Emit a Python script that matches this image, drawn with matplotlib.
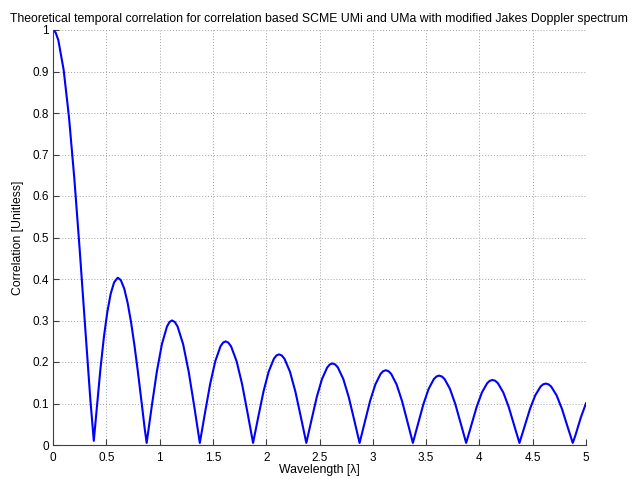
import matplotlib
matplotlib.use("Agg")
from matplotlib import pyplot as plt

plt.rcParams['font.family'] = ['Liberation Sans', 'DejaVu Sans']

# correlation vs wavelength
wavelength = [
    0.0, 0.025, 0.05, 0.1, 0.15, 0.2, 0.25, 0.3, 0.35, 0.3827,
    0.4138, 0.4456, 0.4775, 0.5093, 0.5411, 0.5730, 0.6048, 0.6098, 0.6366, 0.6685,
    0.7003, 0.7321, 0.7639, 0.7958, 0.8276, 0.8594, 0.8786,
    0.9262, 0.9738, 1.0214, 1.0690, 1.0928, 1.1166, 1.1427, 1.1687, 1.2208, 1.2730, 1.3252, 1.3773,
    1.4257, 1.4741, 1.5224, 1.5708, 1.5950, 1.6192, 1.6450, 1.6707, 1.7222, 1.7737, 1.8252, 1.8767,
    1.9255, 1.9742, 2.0230, 2.0717, 2.0961, 2.1205, 2.1461, 2.1717, 2.2228, 2.2740, 2.3251, 2.3763,
    2.4253, 2.4743, 2.5234, 2.5724, 2.5969, 2.6214, 2.6469, 2.6723, 2.7233, 2.7742, 2.8252, 2.8761,
    2.9253, 2.9744, 3.0236, 3.0727, 3.0973, 3.1219, 3.1473, 3.1727, 3.2235, 3.2743, 3.3251, 3.3759,
    3.4252, 3.4745, 3.5238, 3.5731, 3.5978, 3.6224, 3.6477, 3.6731, 3.7237, 3.7744, 3.8251, 3.8758,
    3.9252, 3.9746, 4.0239, 4.0733, 4.0980, 4.1227, 4.1480, 4.1733, 4.2239, 4.2745, 4.3251, 4.3757,
    4.4251, 4.4746, 4.5240, 4.5735, 4.5982, 4.6229, 4.6482, 4.6734, 4.7240, 4.7745, 4.8251, 4.8756,
    4.90, 4.95, 5.0,
]
correlation = [
    1.0, 0.9938, 0.9755, 0.9038, 0.7899, 0.6424, 0.4720, 0.2904, 0.1108, 0.010,
    0.0968, 0.1850, 0.2601, 0.3202, 0.3643, 0.3918, 0.4026, 0.4028, 0.3971, 0.3766,
    0.3423, 0.2961, 0.2404, 0.1776, 0.1103, 0.0412, 0.005,
    0.0927, 0.1764, 0.2428, 0.2854, 0.2964, 0.3001, 0.2964, 0.2854, 0.2428, 0.1764, 0.0927, 0.005,
    0.0772, 0.1468, 0.2020, 0.2375, 0.2466, 0.2497, 0.2466, 0.2375, 0.2020, 0.1468, 0.0772, 0.005,
    0.0675, 0.1284, 0.1767, 0.2077, 0.2157, 0.2184, 0.2157, 0.2077, 0.1767, 0.1284, 0.0675, 0.005,
    0.0607, 0.1155, 0.1590, 0.1869, 0.1941, 0.1965, 0.1941, 0.1869, 0.1590, 0.1155, 0.0607, 0.005,
    0.0557, 0.1059, 0.1457, 0.1713, 0.1779, 0.1801, 0.1779, 0.1713, 0.1457, 0.1059, 0.0557, 0.005,
    0.0517, 0.0983, 0.1353, 0.1590, 0.1651, 0.1672, 0.1651, 0.1590, 0.1353, 0.0983, 0.0517, 0.005,
    0.0484, 0.0921, 0.1268, 0.1490, 0.1548, 0.1567, 0.1548, 0.1490, 0.1268, 0.0921, 0.0484, 0.005,
    0.0457, 0.0870, 0.1197, 0.1408, 0.1462, 0.1480, 0.1462, 0.1408, 0.1197, 0.0870, 0.0457, 0.005,
    0.0227, 0.0651, 0.1006,
]

x_ticks = [0, 0.5, 1, 1.5, 2, 2.5, 3, 3.5, 4, 4.5, 5]
x_labels = ["0", "0.5", "1", "1.5", "2", "2.5", "3", "3.5", "4", "4.5", "5"]
y_ticks = [0, 0.1, 0.2, 0.3, 0.4, 0.5, 0.6, 0.7, 0.8, 0.9, 1]
y_labels = ["0", "0.1", "0.2", "0.3", "0.4", "0.5", "0.6", "0.7", "0.8", "0.9", "1"]

fig = plt.figure(figsize=(6.31, 4.79), dpi=100)
ax = fig.add_axes([53 / 631, 1 - 445 / 479, 533 / 631, 415 / 479])

ax.plot(wavelength, correlation, color="#0000ff", linewidth=1.5)

ax.set_xlim(0, 5)
ax.set_ylim(0, 1)
ax.set_xticks(x_ticks)
ax.set_xticklabels(x_labels)
ax.set_yticks(y_ticks)
ax.set_yticklabels(y_labels)
ax.tick_params(direction="in", length=4, labelsize=8.5, color="#404040", pad=3)
ax.tick_params(axis="x", pad=5)
ax.grid(True, linestyle=(0, (1, 2)), color="#a0a0a0", linewidth=0.7)

for side in ["top", "right"]:
    ax.spines[side].set_visible(False)
for side in ["left", "bottom"]:
    ax.spines[side].set_color("#404040")
    ax.spines[side].set_linewidth(0.8)

ax.set_title("Theoretical temporal correlation for correlation based SCME UMi and UMa with modified Jakes Doppler spectrum",
             fontsize=8.8, pad=6)
ax.set_xlabel("Wavelength [λ]", fontsize=8.8, labelpad=0)
ax.set_ylabel("Correlation [Unitless]", fontsize=8.8, labelpad=6)

fig.savefig("out.png", dpi=100)
